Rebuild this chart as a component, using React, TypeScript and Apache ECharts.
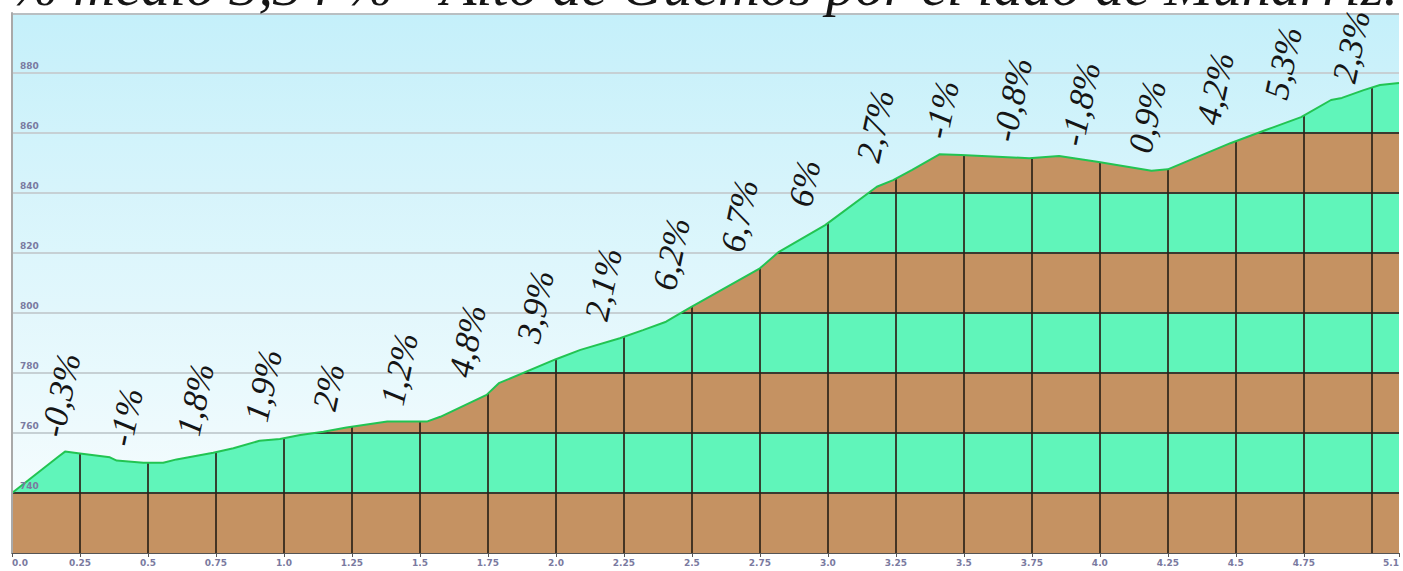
import React, { useEffect, useRef } from "react";
import * as echarts from "echarts";

// Elevation profile (km, metres)
const profileKm = [0, 0.17, 0.195, 0.25, 0.36, 0.385, 0.483, 0.556, 0.605, 0.74, 0.814, 0.91, 0.985, 1.06, 1.145, 1.23, 1.38, 1.525, 1.575, 1.745, 1.79, 2.0, 2.09, 2.235, 2.32, 2.405, 2.49, 2.75, 2.82, 2.99, 3.18, 3.24, 3.31, 3.41, 3.49, 3.74, 3.85, 3.99, 4.19, 4.25, 4.48, 4.61, 4.74, 4.85, 4.89, 4.97, 5.03, 5.1];
const profileElev = [740, 752.1, 753.8, 753.2, 751.9, 750.8, 750.1, 750.1, 751.2, 753.4, 754.9, 757.4, 758, 759.3, 760.4, 761.8, 763.8, 763.8, 765.4, 772.7, 776.6, 784.6, 787.7, 791.6, 794.3, 797.1, 801.6, 814.9, 820.4, 829.3, 842.1, 844.3, 847.7, 852.9, 852.7, 851.6, 852.3, 850.4, 847.4, 847.9, 856.6, 861, 865.3, 871, 871.7, 874.3, 876, 876.7];

// Gradient labels per 250 m segment
const gradeKm = [0.25, 0.5, 0.75, 1.0, 1.25, 1.5, 1.75, 2.0, 2.25, 2.5, 2.75, 3.0, 3.25, 3.5, 3.75, 4.0, 4.25, 4.5, 4.75, 5.0];
const gradeLabels = ["-0,3%", "-1%", "1,8%", "1,9%", "2%", "1,2%", "4,8%", "3,9%", "2,1%", "6,2%", "6,7%", "6%", "2,7%", "-1%", "-0,8%", "-1,8%", "0,9%", "4,2%", "5,3%", "2,3%"];

const xTickLabels = ["0.0", "0.25", "0.5", "0.75", "1.0", "1.25", "1.5", "1.75", "2.0", "2.25", "2.5", "2.75", "3.0", "3.25", "3.5", "3.75", "4.0", "4.25", "4.5", "4.75", "5.1"];
const yTicks = [740, 760, 780, 800, 820, 840, 860, 880];

const titleText = "% medio 3,34 % - Alto de Guemos por el lado de Munarriz.";

const X_MIN = 0;
const X_MAX = 5.1;
const Y_MIN = 720;
const Y_MAX = 900;

const BROWN = "#c59262";
const GREEN = "#60f5ba";
const BAND_LINE = "#3a3a30";
const SKY_TOP = [197, 240, 250];
const SKY_BOTTOM = [250, 253, 254];
const SKY_GRID = "#c6d0d4";

function interpElev(k: number): number {
  for (let i = 0; i < profileKm.length - 1; i++) {
    if (k >= profileKm[i] && k <= profileKm[i + 1]) {
      const t = (k - profileKm[i]) / (profileKm[i + 1] - profileKm[i]);
      return profileElev[i] + t * (profileElev[i + 1] - profileElev[i]);
    }
  }
  return profileElev[profileElev.length - 1];
}

function bandColor(lo: number) {
  return Math.round((lo - Y_MIN) / 20) % 2 === 0 ? BROWN : GREEN;
}

function skyColor(f: number) {
  const c = SKY_TOP.map((v, i) => Math.round(v + (SKY_BOTTOM[i] - v) * f));
  return `rgb(${c[0]},${c[1]},${c[2]})`;
}

export default function App() {
  const ref = useRef<HTMLDivElement>(null);
  useEffect(() => {
    if (!ref.current) return;
    const chart = echarts.init(ref.current, null, { renderer: "svg" });
    const lineData = profileKm.map((k, i) => [k, profileElev[i]]);
    const xTickValues = xTickLabels.map((s) => parseFloat(s));
    const xFmt = (v: number) => {
      const idx = xTickValues.findIndex((t) => Math.abs(t - v) < 1e-6);
      return idx >= 0 ? xTickLabels[idx] : "";
    };
    const labelColor = "#7a7aa0";
    const base: any = {
      animation: false,
      backgroundColor: "#ffffff",
      grid: { left: 12, right: 4, top: 13, bottom: 18, containLabel: false, outerBoundsMode: "none" },
      xAxis: {
        type: "value",
        min: X_MIN,
        max: X_MAX,
        z: 20,
        axisLine: { show: true, onZero: false, lineStyle: { color: "#555", width: 1 } },
        axisTick: { show: true, customValues: xTickValues, length: 4, lineStyle: { color: "#555" } },
        axisLabel: {
          customValues: xTickValues,
          formatter: xFmt,
          fontSize: 9,
          fontWeight: "bold",
          color: labelColor,
          margin: 5,
          fontFamily: "DejaVu Sans",
          alignMinLabel: "left",
          alignMaxLabel: "right",
        },
        splitLine: { show: false },
      },
      yAxis: {
        type: "value",
        min: Y_MIN,
        max: Y_MAX,
        interval: 20,
        z: 20,
        axisLine: { show: true, lineStyle: { color: "#a9a9a9", width: 2 } },
        axisTick: { show: false },
        splitLine: { show: false },
        axisLabel: {
          inside: true,
          margin: 8,
          fontSize: 9,
          fontWeight: "bold",
          fontFamily: "DejaVu Sans",
          color: labelColor,
          verticalAlign: "bottom",
          padding: [0, 0, 3, 0],
          formatter: (v: number) => (yTicks.indexOf(v) >= 0 ? String(v) : ""),
        },
      },
      series: [],
    };
    chart.setOption(base);

    const yTopPx = chart.convertToPixel({ gridIndex: 0 }, [0, Y_MAX])[1];
    const yBotPx = chart.convertToPixel({ gridIndex: 0 }, [0, Y_MIN])[1];
    const H = yBotPx - yTopPx;
    const off = (e: number) => (Y_MAX - e) / (Y_MAX - Y_MIN);

    // Band fill gradient (below profile)
    const bandStops: any[] = [{ offset: 0, color: GREEN }];
    const dt = 0.8 / H;
    for (let e = 880; e >= 740; e -= 20) {
      const o = off(e);
      bandStops.push({ offset: o - dt, color: bandColor(e) });
      bandStops.push({ offset: o - dt, color: BAND_LINE });
      bandStops.push({ offset: o + dt, color: BAND_LINE });
      bandStops.push({ offset: o + dt, color: bandColor(e - 20) });
    }
    bandStops.push({ offset: 1, color: bandColor(Y_MIN) });
    const bandGrad = new echarts.graphic.LinearGradient(0, yTopPx, 0, yBotPx, bandStops, true);

    // Sky gradient (above profile) with light grid lines
    const skyStops: any[] = [];
    const bt = 1.5 / H;
    skyStops.push({ offset: 0, color: "#b9bfc2" });
    skyStops.push({ offset: bt, color: "#b9bfc2" });
    skyStops.push({ offset: bt, color: skyColor(bt) });
    const dl = 0.6 / H;
    for (let e = 880; e >= 740; e -= 20) {
      const o = off(e);
      skyStops.push({ offset: o - dl, color: skyColor(o - dl) });
      skyStops.push({ offset: o - dl, color: SKY_GRID });
      skyStops.push({ offset: o + dl, color: SKY_GRID });
      skyStops.push({ offset: o + dl, color: skyColor(o + dl) });
    }
    skyStops.push({ offset: 1, color: skyColor(1) });
    const skyGrad = new echarts.graphic.LinearGradient(0, yTopPx, 0, yBotPx, skyStops, true);

    const ROT = (78 * Math.PI) / 180;
    const FS = 35;
    const labelGraphics = gradeKm.map((k, i) => {
      const p = chart.convertToPixel({ gridIndex: 0 }, [k, interpElev(k)]);
      const estLen = gradeLabels[i].length * 0.5 * FS;
      const minStartY = yTopPx - 2 + estLen * Math.sin(ROT) + (FS * 0.35) * Math.cos(ROT);
      const startY = Math.max(p[1] - 17, minStartY);
      return {
        type: "text",
        x: p[0] - 28,
        y: startY,
        rotation: ROT,
        z: 40,
        silent: true,
        style: {
          text: gradeLabels[i],
          fill: "#151515",
          font: `italic ${FS}px "Liberation Serif"`,
          textAlign: "left",
          textVerticalAlign: "middle",
          align: "left",
          verticalAlign: "middle",
        },
      };
    });

    chart.setOption({
      series: [
        {
          type: "line",
          data: lineData,
          z: 1,
          symbol: "none",
          showSymbol: false,
          silent: true,
          lineStyle: { width: 0, opacity: 0 },
          areaStyle: { origin: "start", color: bandGrad, opacity: 1 },
          markLine: {
            silent: true,
            symbol: ["none", "none"],
            label: { show: false },
            lineStyle: { color: "rgba(45,35,25,0.85)", width: 2, type: "solid" },
            data: gradeKm.map((k) => ({ xAxis: k })),
            animation: false,
          },
        },
        {
          type: "line",
          data: lineData,
          z: 10,
          symbol: "none",
          showSymbol: false,
          silent: true,
          lineStyle: { color: "#22c452", width: 2 },
          areaStyle: { origin: "end", color: skyGrad, opacity: 1 },
        },
      ],
      graphic: [
        ...labelGraphics,
        {
          type: "text",
          x: 1398,
          y: 14,
          z: 40,
          silent: true,
          style: {
            text: titleText,
            fill: "#151515",
            font: 'italic 58px "Liberation Serif"',
            textAlign: "right",
            textVerticalAlign: "bottom",
            align: "right",
            verticalAlign: "bottom",
          },
        },
      ],
    });

    return () => chart.dispose();
  }, []);
  return <div ref={ref} style={{ position: "absolute", left: 0, top: 0, width: 1403, height: 571 }} />;
}
